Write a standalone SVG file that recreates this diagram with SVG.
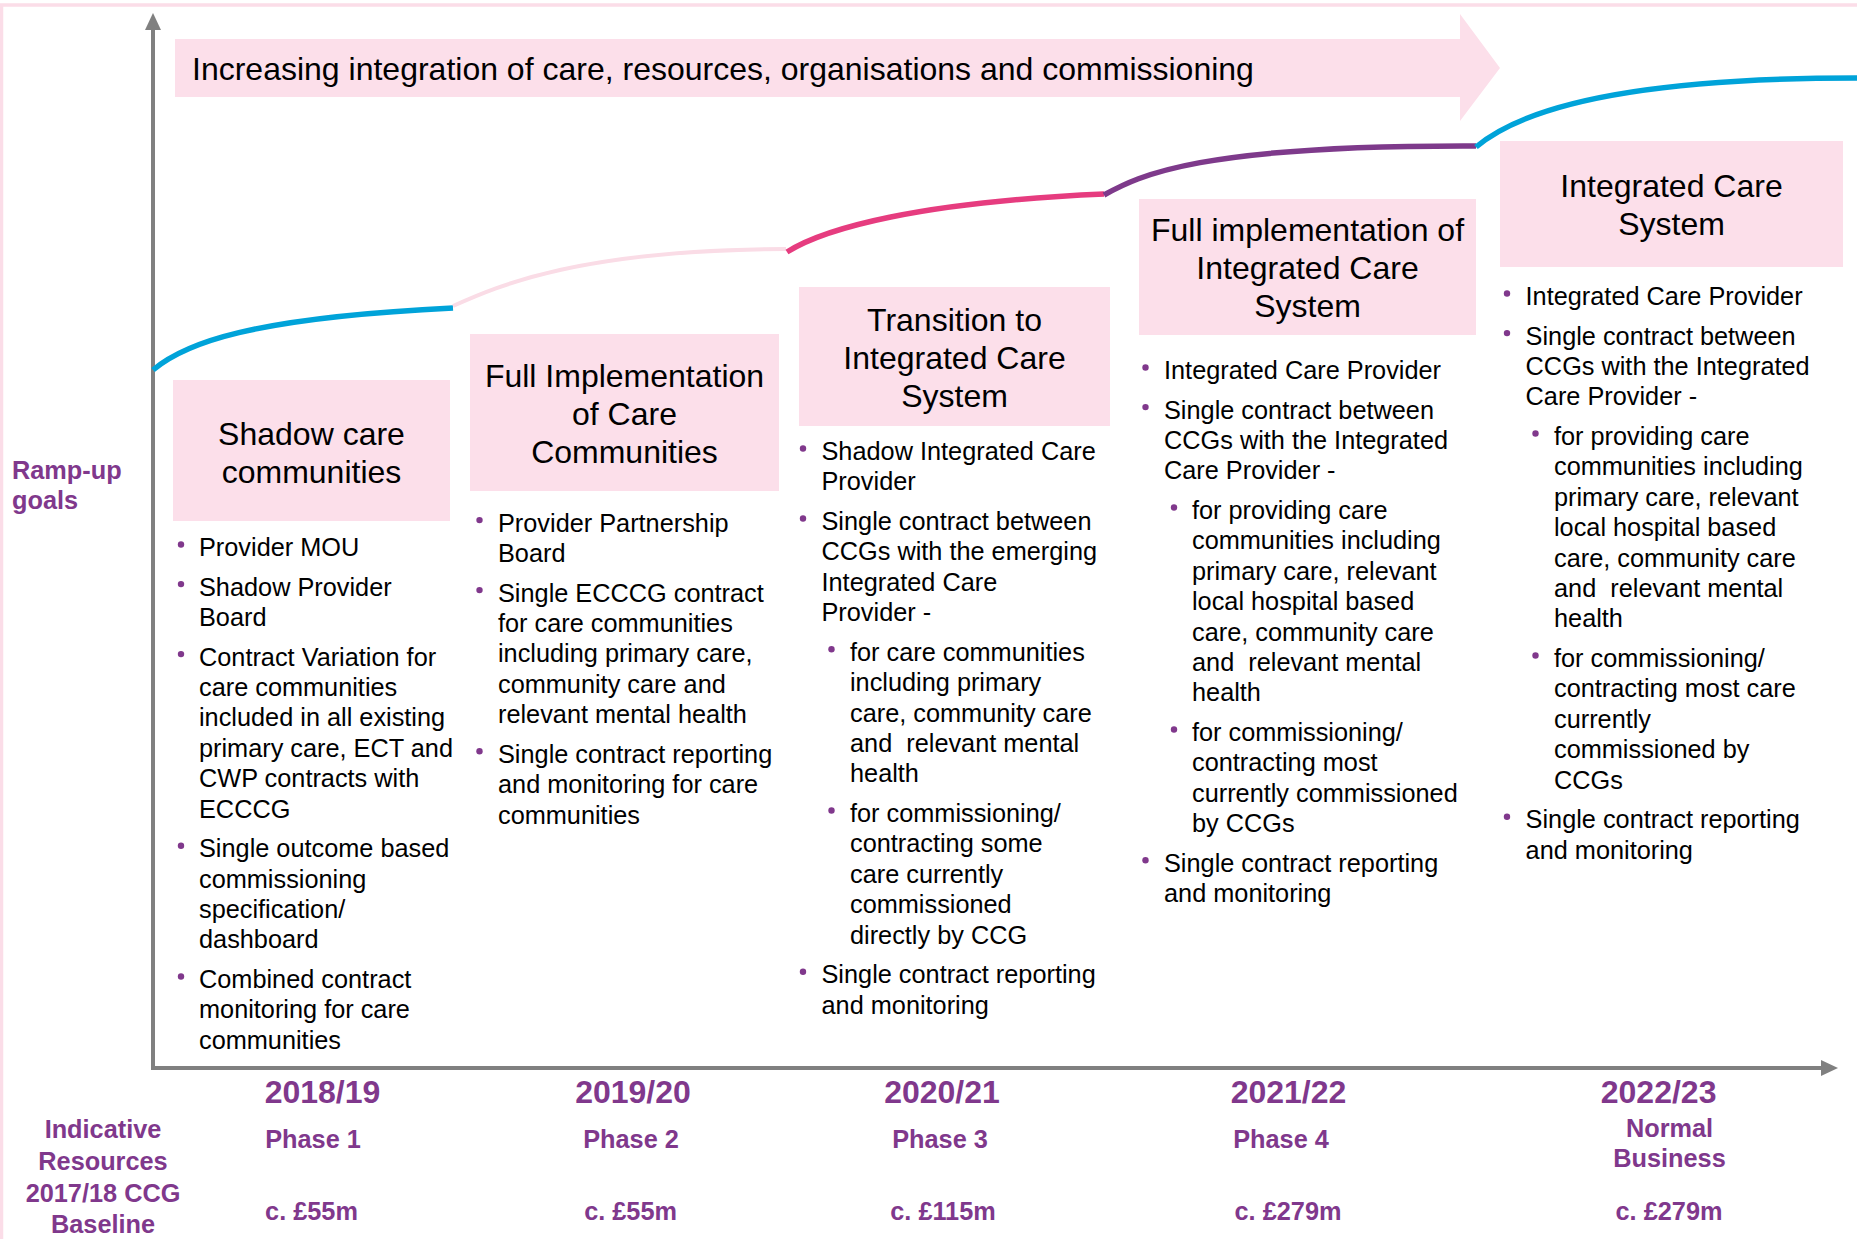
<svg xmlns="http://www.w3.org/2000/svg" width="1857" height="1239" viewBox="0 0 1857 1239">
<style>
text{font-family:"Liberation Sans",Arial,Helvetica,sans-serif}
.box{fill:#FCDFEA}
.ttl{font-size:32px;text-anchor:middle;fill:#000}
.hdr{font-size:32px;fill:#000}
.b{font-size:25.3px;fill:#000}
.dot{fill:#80388C}
.lab{font-weight:bold;fill:#80388C;font-size:25.3px}
.mid{text-anchor:middle}
.yr{font-size:32px}
.ax{stroke:#808080;stroke-width:4;fill:none}
.axh{fill:#808080}
.cv{fill:none;stroke-linecap:butt}
</style>
<rect width="1857" height="1239" fill="#fff"/>
<path d="M1.5,1239 V5 H1857" fill="none" stroke="#FBDDE8" stroke-width="3.5"/>

<g id="header-arrow">
<polygon points="175,39 1460,39 1460,14 1500,68 1460,121 1460,97 175,97" fill="#FCDFEA"/>
<text class="hdr" x="192" y="80">Increasing integration of care, resources, organisations and commissioning</text>
</g>

<g id="connectors">
<line class="ax" x1="153" y1="28" x2="153" y2="1070"/>
<polygon class="axh" points="153,13 145,30 161,30"/>
<line class="ax" x1="151" y1="1068" x2="1823" y2="1068"/>
<polygon class="axh" points="1838,1068 1821,1060 1821,1076"/>
<path class="cv" d="M153,370 C185,343 250,318 453,308" stroke="#00A3D9" stroke-width="5.5"/>
<path class="cv" d="M453,306 C500,285 580,250 786,249" stroke="#FADCE6" stroke-width="4"/>
<path class="cv" d="M787,252 C825,228 920,202 1104,194" stroke="#E63C7F" stroke-width="5.5"/>
<path class="cv" d="M1104,195 C1140,175 1200,145 1476,146" stroke="#7E3A8B" stroke-width="5.5"/>
<path class="cv" d="M1476,147 C1520,110 1620,78 1857,78" stroke="#00A3D9" stroke-width="5.5"/>
</g>

<g id="ramp-up-label">
<text class="lab"><tspan x="12" y="479">Ramp-up</tspan><tspan x="12" y="509">goals</tspan></text>
</g>

<g id="stage1">
<rect class="box" x="173" y="380" width="277" height="141"/>
<text class="ttl"><tspan x="311.5" y="444.7">Shadow care</tspan><tspan x="311.5" y="482.7">communities</tspan></text>
<g class="dot">
<circle cx="181" cy="544.5" r="3.2"/><circle cx="181" cy="584.1" r="3.2"/><circle cx="181" cy="654.1" r="3.2"/><circle cx="181" cy="845.7" r="3.2"/><circle cx="181" cy="976.5" r="3.2"/>
</g>
<text class="b">
<tspan x="199" y="556">Provider MOU</tspan>
<tspan x="199" y="595.6">Shadow Provider</tspan><tspan x="199" y="626">Board</tspan>
<tspan x="199" y="665.6">Contract Variation for</tspan><tspan x="199" y="696">care communities</tspan><tspan x="199" y="726.4">included in all existing</tspan><tspan x="199" y="756.8">primary care, ECT and</tspan><tspan x="199" y="787.2">CWP contracts with</tspan><tspan x="199" y="817.6">ECCCG</tspan>
<tspan x="199" y="857.2">Single outcome based</tspan><tspan x="199" y="887.6">commissioning</tspan><tspan x="199" y="918">specification/</tspan><tspan x="199" y="948.4">dashboard</tspan>
<tspan x="199" y="988">Combined contract</tspan><tspan x="199" y="1018.4">monitoring for care</tspan><tspan x="199" y="1048.8">communities</tspan>
</text>
</g>

<g id="stage2">
<rect class="box" x="470" y="334" width="309" height="157"/>
<text class="ttl"><tspan x="624.5" y="386.7">Full Implementation</tspan><tspan x="624.5" y="425">of Care</tspan><tspan x="624.5" y="463">Communities</tspan></text>
<g class="dot">
<circle cx="479.5" cy="520.1" r="3.2"/><circle cx="479.5" cy="590.1" r="3.2"/><circle cx="479.5" cy="751.3" r="3.2"/>
</g>
<text class="b">
<tspan x="498" y="531.6">Provider Partnership</tspan><tspan x="498" y="562">Board</tspan>
<tspan x="498" y="601.6">Single ECCCG contract</tspan><tspan x="498" y="632">for care communities</tspan><tspan x="498" y="662.4">including primary care,</tspan><tspan x="498" y="692.8">community care and</tspan><tspan x="498" y="723.2">relevant mental health</tspan>
<tspan x="498" y="762.8">Single contract reporting</tspan><tspan x="498" y="793.2">and monitoring for care</tspan><tspan x="498" y="823.6">communities</tspan>
</text>
</g>

<g id="stage3">
<rect class="box" x="799" y="287" width="311" height="139"/>
<text class="ttl"><tspan x="954.5" y="331">Transition to</tspan><tspan x="954.5" y="369">Integrated Care</tspan><tspan x="954.5" y="407">System</tspan></text>
<g class="dot">
<circle cx="803" cy="448.5" r="3.2"/><circle cx="803" cy="518.5" r="3.2"/><circle cx="831.5" cy="649.3" r="3.2"/><circle cx="831.5" cy="810.5" r="3.2"/><circle cx="803" cy="971.7" r="3.2"/>
</g>
<text class="b" xml:space="preserve"><tspan x="821.5" y="460">Shadow Integrated Care</tspan><tspan x="821.5" y="490.4">Provider</tspan><tspan x="821.5" y="530">Single contract between</tspan><tspan x="821.5" y="560.4">CCGs with the emerging</tspan><tspan x="821.5" y="590.8">Integrated Care</tspan><tspan x="821.5" y="621.2">Provider -</tspan><tspan x="850" y="660.8">for care communities</tspan><tspan x="850" y="691.2">including primary</tspan><tspan x="850" y="721.6">care, community care</tspan><tspan x="850" y="752">and  relevant mental</tspan><tspan x="850" y="782.4">health</tspan><tspan x="850" y="822">for commissioning/</tspan><tspan x="850" y="852.4">contracting some</tspan><tspan x="850" y="882.8">care currently</tspan><tspan x="850" y="913.2">commissioned</tspan><tspan x="850" y="943.6">directly by CCG</tspan><tspan x="821.5" y="983.2">Single contract reporting</tspan><tspan x="821.5" y="1013.6">and monitoring</tspan></text>
</g>

<g id="stage4">
<rect class="box" x="1139" y="199" width="337" height="136"/>
<text class="ttl"><tspan x="1307.5" y="241">Full implementation of</tspan><tspan x="1307.5" y="279">Integrated Care</tspan><tspan x="1307.5" y="317">System</tspan></text>
<g class="dot">
<circle cx="1145.5" cy="367.5" r="3.2"/><circle cx="1145.5" cy="407.1" r="3.2"/><circle cx="1174" cy="507.5" r="3.2"/><circle cx="1174" cy="729.5" r="3.2"/><circle cx="1145.5" cy="860.3" r="3.2"/>
</g>
<text class="b" xml:space="preserve"><tspan x="1164" y="379">Integrated Care Provider</tspan><tspan x="1164" y="418.6">Single contract between</tspan><tspan x="1164" y="449">CCGs with the Integrated</tspan><tspan x="1164" y="479.4">Care Provider -</tspan><tspan x="1192" y="519">for providing care</tspan><tspan x="1192" y="549.4">communities including</tspan><tspan x="1192" y="579.8">primary care, relevant</tspan><tspan x="1192" y="610.2">local hospital based</tspan><tspan x="1192" y="640.6">care, community care</tspan><tspan x="1192" y="671">and  relevant mental</tspan><tspan x="1192" y="701.4">health</tspan><tspan x="1192" y="741">for commissioning/</tspan><tspan x="1192" y="771.4">contracting most</tspan><tspan x="1192" y="801.8">currently commissioned</tspan><tspan x="1192" y="832.2">by CCGs</tspan><tspan x="1164" y="871.8">Single contract reporting</tspan><tspan x="1164" y="902.2">and monitoring</tspan></text>
</g>

<g id="stage5">
<rect class="box" x="1500" y="141" width="343" height="126"/>
<text class="ttl"><tspan x="1671.5" y="197">Integrated Care</tspan><tspan x="1671.5" y="235">System</tspan></text>
<g class="dot">
<circle cx="1507" cy="293.5" r="3.2"/><circle cx="1507" cy="333.1" r="3.2"/><circle cx="1535.5" cy="433.5" r="3.2"/><circle cx="1535.5" cy="655.5" r="3.2"/><circle cx="1507" cy="816.7" r="3.2"/>
</g>
<text class="b" xml:space="preserve"><tspan x="1525.6" y="305">Integrated Care Provider</tspan><tspan x="1525.6" y="344.6">Single contract between</tspan><tspan x="1525.6" y="375">CCGs with the Integrated</tspan><tspan x="1525.6" y="405.4">Care Provider -</tspan><tspan x="1554" y="445">for providing care</tspan><tspan x="1554" y="475.4">communities including</tspan><tspan x="1554" y="505.8">primary care, relevant</tspan><tspan x="1554" y="536.2">local hospital based</tspan><tspan x="1554" y="566.6">care, community care</tspan><tspan x="1554" y="597">and  relevant mental</tspan><tspan x="1554" y="627.4">health</tspan><tspan x="1554" y="667">for commissioning/</tspan><tspan x="1554" y="697.4">contracting most care</tspan><tspan x="1554" y="727.8">currently</tspan><tspan x="1554" y="758.2">commissioned by</tspan><tspan x="1554" y="788.6">CCGs</tspan><tspan x="1525.6" y="828.2">Single contract reporting</tspan><tspan x="1525.6" y="858.6">and monitoring</tspan></text>
</g>

<g id="resources-label">
<text class="lab mid"><tspan x="103" y="1138">Indicative</tspan><tspan x="103" y="1170">Resources</tspan><tspan x="103" y="1201.7">2017/18 CCG</tspan><tspan x="103" y="1233">Baseline</tspan></text>
</g>

<g id="year1">
<text class="lab mid yr" x="322.5" y="1103">2018/19</text>
<text class="lab mid" x="313" y="1148">Phase 1</text>
<text class="lab mid" x="311.5" y="1220">c. £55m</text>
</g>
<g id="year2">
<text class="lab mid yr" x="633" y="1103">2019/20</text>
<text class="lab mid" x="631" y="1148">Phase 2</text>
<text class="lab mid" x="630.6" y="1220">c. £55m</text>
</g>
<g id="year3">
<text class="lab mid yr" x="942" y="1103">2020/21</text>
<text class="lab mid" x="940" y="1148">Phase 3</text>
<text class="lab mid" x="943" y="1220">c. £115m</text>
</g>
<g id="year4">
<text class="lab mid yr" x="1288.5" y="1103">2021/22</text>
<text class="lab mid" x="1281" y="1148">Phase 4</text>
<text class="lab mid" x="1288" y="1220">c. £279m</text>
</g>
<g id="year5">
<text class="lab mid yr" x="1658.6" y="1103">2022/23</text>
<text class="lab mid"><tspan x="1669.5" y="1137">Normal</tspan><tspan x="1669.5" y="1167">Business</tspan></text>
<text class="lab mid" x="1669" y="1220">c. £279m</text>
</g>
</svg>
